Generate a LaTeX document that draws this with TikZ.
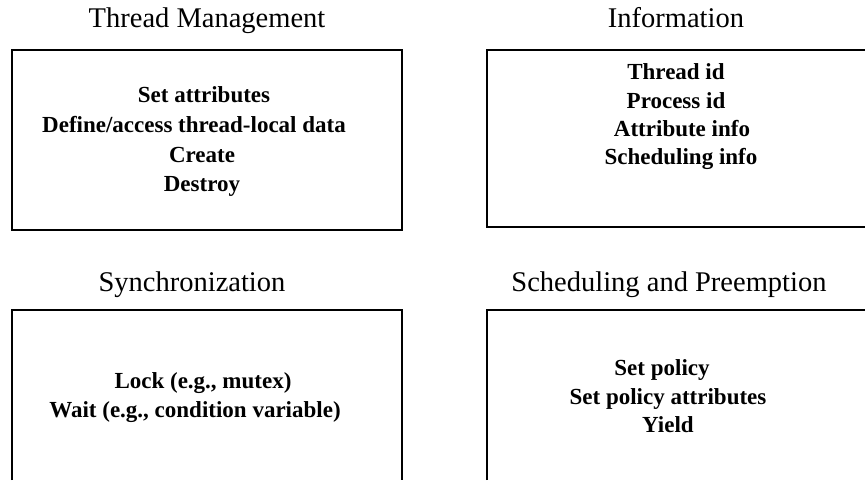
\documentclass[tikz,border=0pt]{standalone}
\usepackage{fontspec}
\setmainfont{Liberation Serif}
\begin{document}
\begin{tikzpicture}[x=1pt,y=-1pt,
  ttl/.style={anchor=base, font=\fontsize{28.5}{30}\selectfont, inner sep=0pt},
  itm/.style={anchor=base, font=\fontsize{23}{25}\selectfont\bfseries, inner sep=0pt},
  frame/.style={draw=black, line width=2.4pt, line join=miter}]
\useasboundingbox (0,0) rectangle (865,480);
% titles
\node[ttl] (t1) at (207,27) {Thread Management};
\node[ttl] (t2) at (676,27) {Information};
\node[ttl] (t3) at (192,291) {Synchronization};
\node[ttl] (t4) at (669,291) {Scheduling and Preemption};
% boxes
\node[frame, minimum width=390pt, minimum height=180pt, inner sep=0pt] (b1) at (207,140) {};
\draw[frame] (865,50) -- (487,50) -- (487,227) -- (865,227);
\draw[frame] (12,480) -- (12,310) -- (402,310) -- (402,480);
\draw[frame] (487,480) -- (487,310) -- (865,310);
% thread management
\node[itm] (a1) at (204,102) {Set attributes};
\node[itm] (a2) at (194,132) {Define/access thread-local data};
\node[itm] (a3) at (202,162) {Create};
\node[itm] (a4) at (202,191) {Destroy};
% information
\node[itm] (i1) at (676,79) {Thread id};
\node[itm] (i2) at (676,108) {Process id};
\node[itm] (i3) at (682,136) {Attribute info};
\node[itm] (i4) at (681,164) {Scheduling info};
% synchronization
\node[itm] (s1) at (203,388) {Lock (e.g., mutex)};
\node[itm] (s2) at (195,417) {Wait (e.g., condition variable)};
% scheduling
\node[itm] (p1) at (662,375) {Set policy};
\node[itm] (p2) at (668,404) {Set policy attributes};
\node[itm] (p3) at (668,432) {Yield};
\end{tikzpicture}
\end{document}
